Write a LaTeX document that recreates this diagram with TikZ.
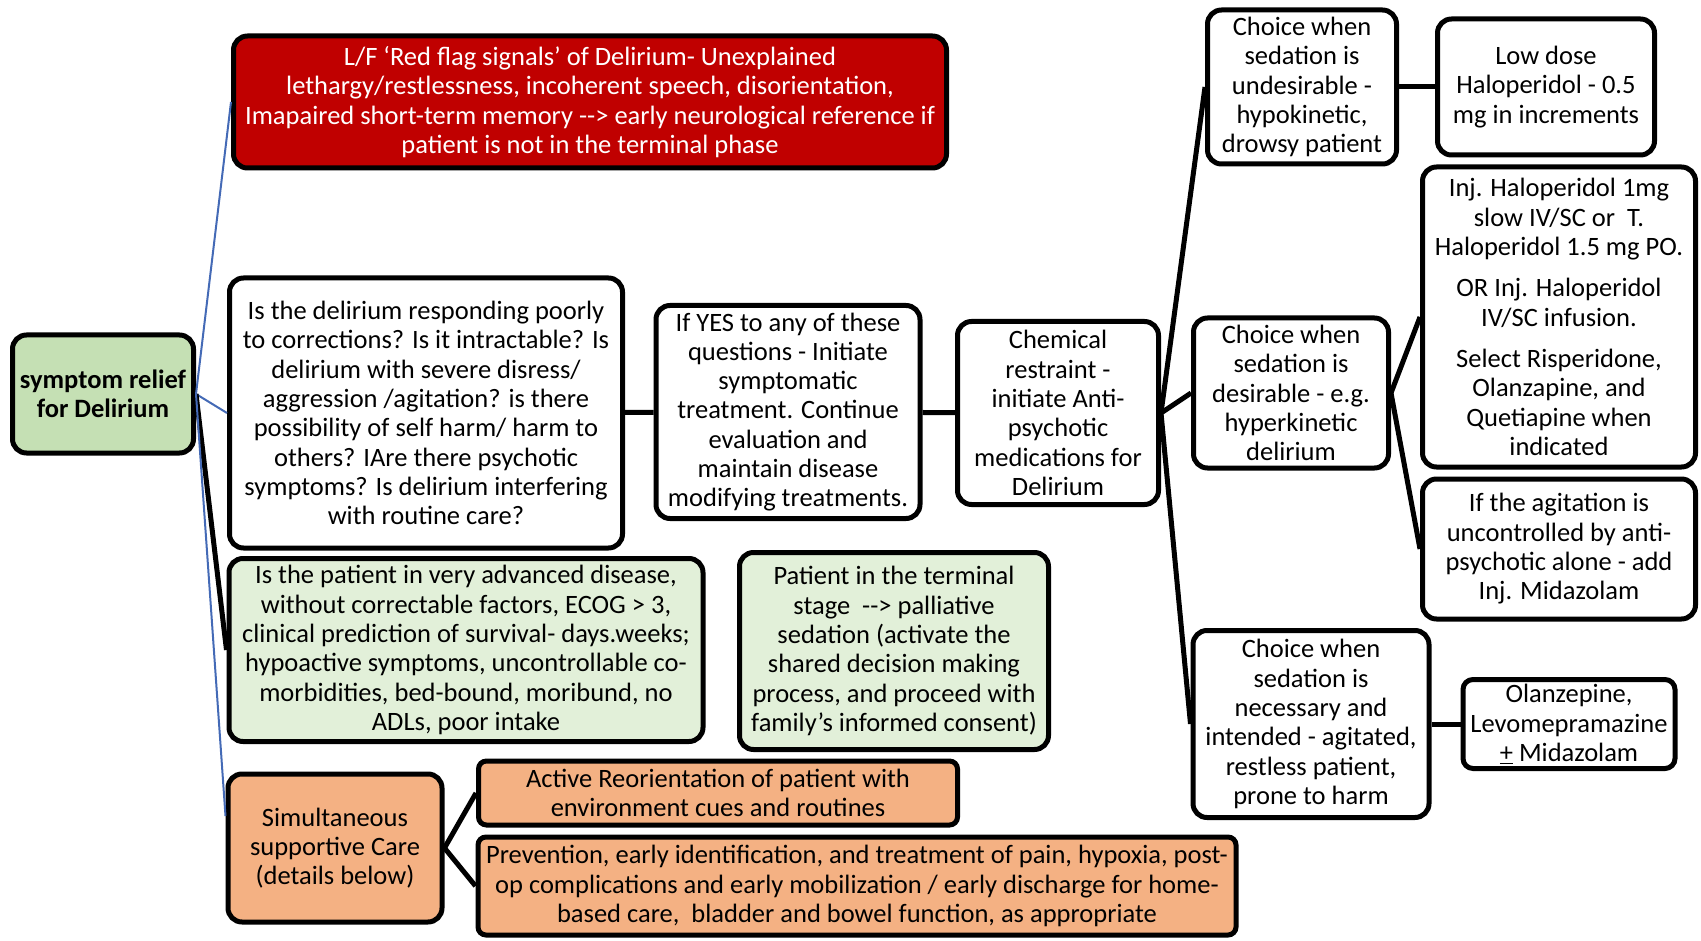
\documentclass[tikz,border=0pt]{standalone}
\usepackage{fontspec}
\setmainfont{Carlito}
\definecolor{flagred}{RGB}{192,0,0}
\definecolor{rootgreen}{RGB}{197,224,180}
\definecolor{palegreen}{RGB}{226,240,217}
\definecolor{careorange}{RGB}{244,177,131}
\definecolor{linkblue}{RGB}{68,106,182}
\begin{document}
\begin{tikzpicture}[x=1pt, y=-1pt,
  box/.style={draw, line width=5pt, rounded corners=14pt, align=center, inner sep=2pt,
    font=\fontsize{26.5}{29.3}\selectfont},
  link/.style={draw, line width=5pt},
  bluelink/.style={draw, linkblue, line width=2pt}]
\useasboundingbox (0,0) rectangle (1701,941);

% main branch
\node[box, fill=rootgreen, minimum width=181, minimum height=118, font=\fontsize{26.5}{29.3}\selectfont\bfseries] (root) at (103,394) {symptom relief\\for Delirium};
\node[box, fill=flagred, text=white, minimum width=713, minimum height=132] (flag) at (590,102) {L/F ‘Red flag signals’ of Delirium- Unexplained\\lethargy/restlessness, incoherent speech, disorientation,\\Imapaired short-term memory -{}-> early neurological reference if\\patient is not in the terminal phase};
\node[box, minimum width=393, minimum height=270] (quest) at (426,413) {Is the delirium responding poorly\\to corrections? Is it intractable? Is\\delirium with severe disress/\\aggression /agitation? is there\\possibility of self harm/ harm to\\others? IAre there psychotic\\symptoms? Is delirium interfering\\with routine care?};
\node[box, minimum width=264, minimum height=213] (yes) at (788,412) {If YES to any of these\\questions - Initiate\\symptomatic\\treatment. Continue\\evaluation and\\maintain disease\\modifying treatments.};
\node[box, minimum width=201, minimum height=183] (chem) at (1058,413) {Chemical\\restraint -\\initiate Anti-\\psychotic\\medications for\\Delirium};

% choices
\node[box, minimum width=189, minimum height=154] (undes) at (1302,87) {Choice when\\sedation is\\undesirable -\\hypokinetic,\\drowsy patient};
\node[box, minimum width=217, minimum height=136] (lowdose) at (1546,87) {Low dose\\Haloperidol - 0.5\\mg in increments};
\node[box, minimum width=195, minimum height=150] (desir) at (1291,393) {Choice when\\sedation is\\desirable - e.g.\\hyperkinetic\\delirium};
\node[box, minimum width=273, minimum height=300] (halo) at (1559,317) {Inj. Haloperidol 1mg\\slow IV/SC or\ \ T.\\Haloperidol 1.5 mg PO.\\[12pt]OR Inj. Haloperidol\\IV/SC infusion.\\[12pt]Select Risperidone,\\Olanzapine, and\\Quetiapine when\\indicated};
\node[box, minimum width=273, minimum height=140] (agit) at (1559,549) {If the agitation is\\uncontrolled by anti-\\psychotic alone - add\\Inj. Midazolam};
\node[box, minimum width=236, minimum height=187] (neces) at (1311,724) {Choice when\\sedation is\\necessary and\\intended - agitated,\\restless patient,\\prone to harm};
\node[box, minimum width=212, minimum height=89, rounded corners=10pt] (olanz) at (1569,724) {Olanzepine,\\Levomepramazine\\\underline{+} Midazolam};

% terminal phase
\node[box, fill=palegreen, minimum width=474, minimum height=183] (ecog) at (466,650) {Is the patient in very advanced disease,\\without correctable factors, ECOG > 3,\\clinical prediction of survival- days.weeks;\\hypoactive symptoms, uncontrollable co-\\morbidities, bed-bound, moribund, no\\ADLs, poor intake};
\node[box, fill=palegreen, minimum width=309, minimum height=197] (term) at (894,651) {Patient in the terminal\\stage\ \ -{}-> palliative\\sedation (activate the\\shared decision making\\process, and proceed with\\family's informed consent)};

% supportive care
\node[box, fill=careorange, minimum width=214, minimum height=148] (simul) at (335,848) {Simultaneous\\supportive Care\\(details below)};
\node[box, fill=careorange, minimum width=479, minimum height=64, rounded corners=8pt] (reor) at (718,793) {Active Reorientation of patient with\\environment cues and routines};
\node[box, fill=careorange, minimum width=758, minimum height=98, rounded corners=8pt] (prev) at (857,886) {Prevention, early identification, and treatment of pain, hypoxia, post-\\op complications and early mobilization / early discharge for home-\\based care,\ \ bladder and bowel function, as appropriate};

\path[bluelink] (root.east) -- (flag.west);
\path[bluelink] (root.east) -- (quest.west);
\path[link] (root.east) -- (ecog.west);
\path[bluelink] (root.east) -- ([yshift=32pt]simul.west);
\path[link] (quest) -- (yes);
\path[link] (yes) -- (chem);
\path[link] (chem.east) -- (undes.west);
\path[link] (chem.east) -- (desir.west);
\path[link] (chem.east) -- (neces.west);
\path[link] (undes) -- (lowdose);
\path[link] (desir.east) -- (halo.west);
\path[link] (desir.east) -- (agit.west);
\path[link] (neces) -- (olanz);
\path[link] (simul.east) -- (reor.west);
\path[link] (simul.east) -- (prev.west);
\end{tikzpicture}
\end{document}
